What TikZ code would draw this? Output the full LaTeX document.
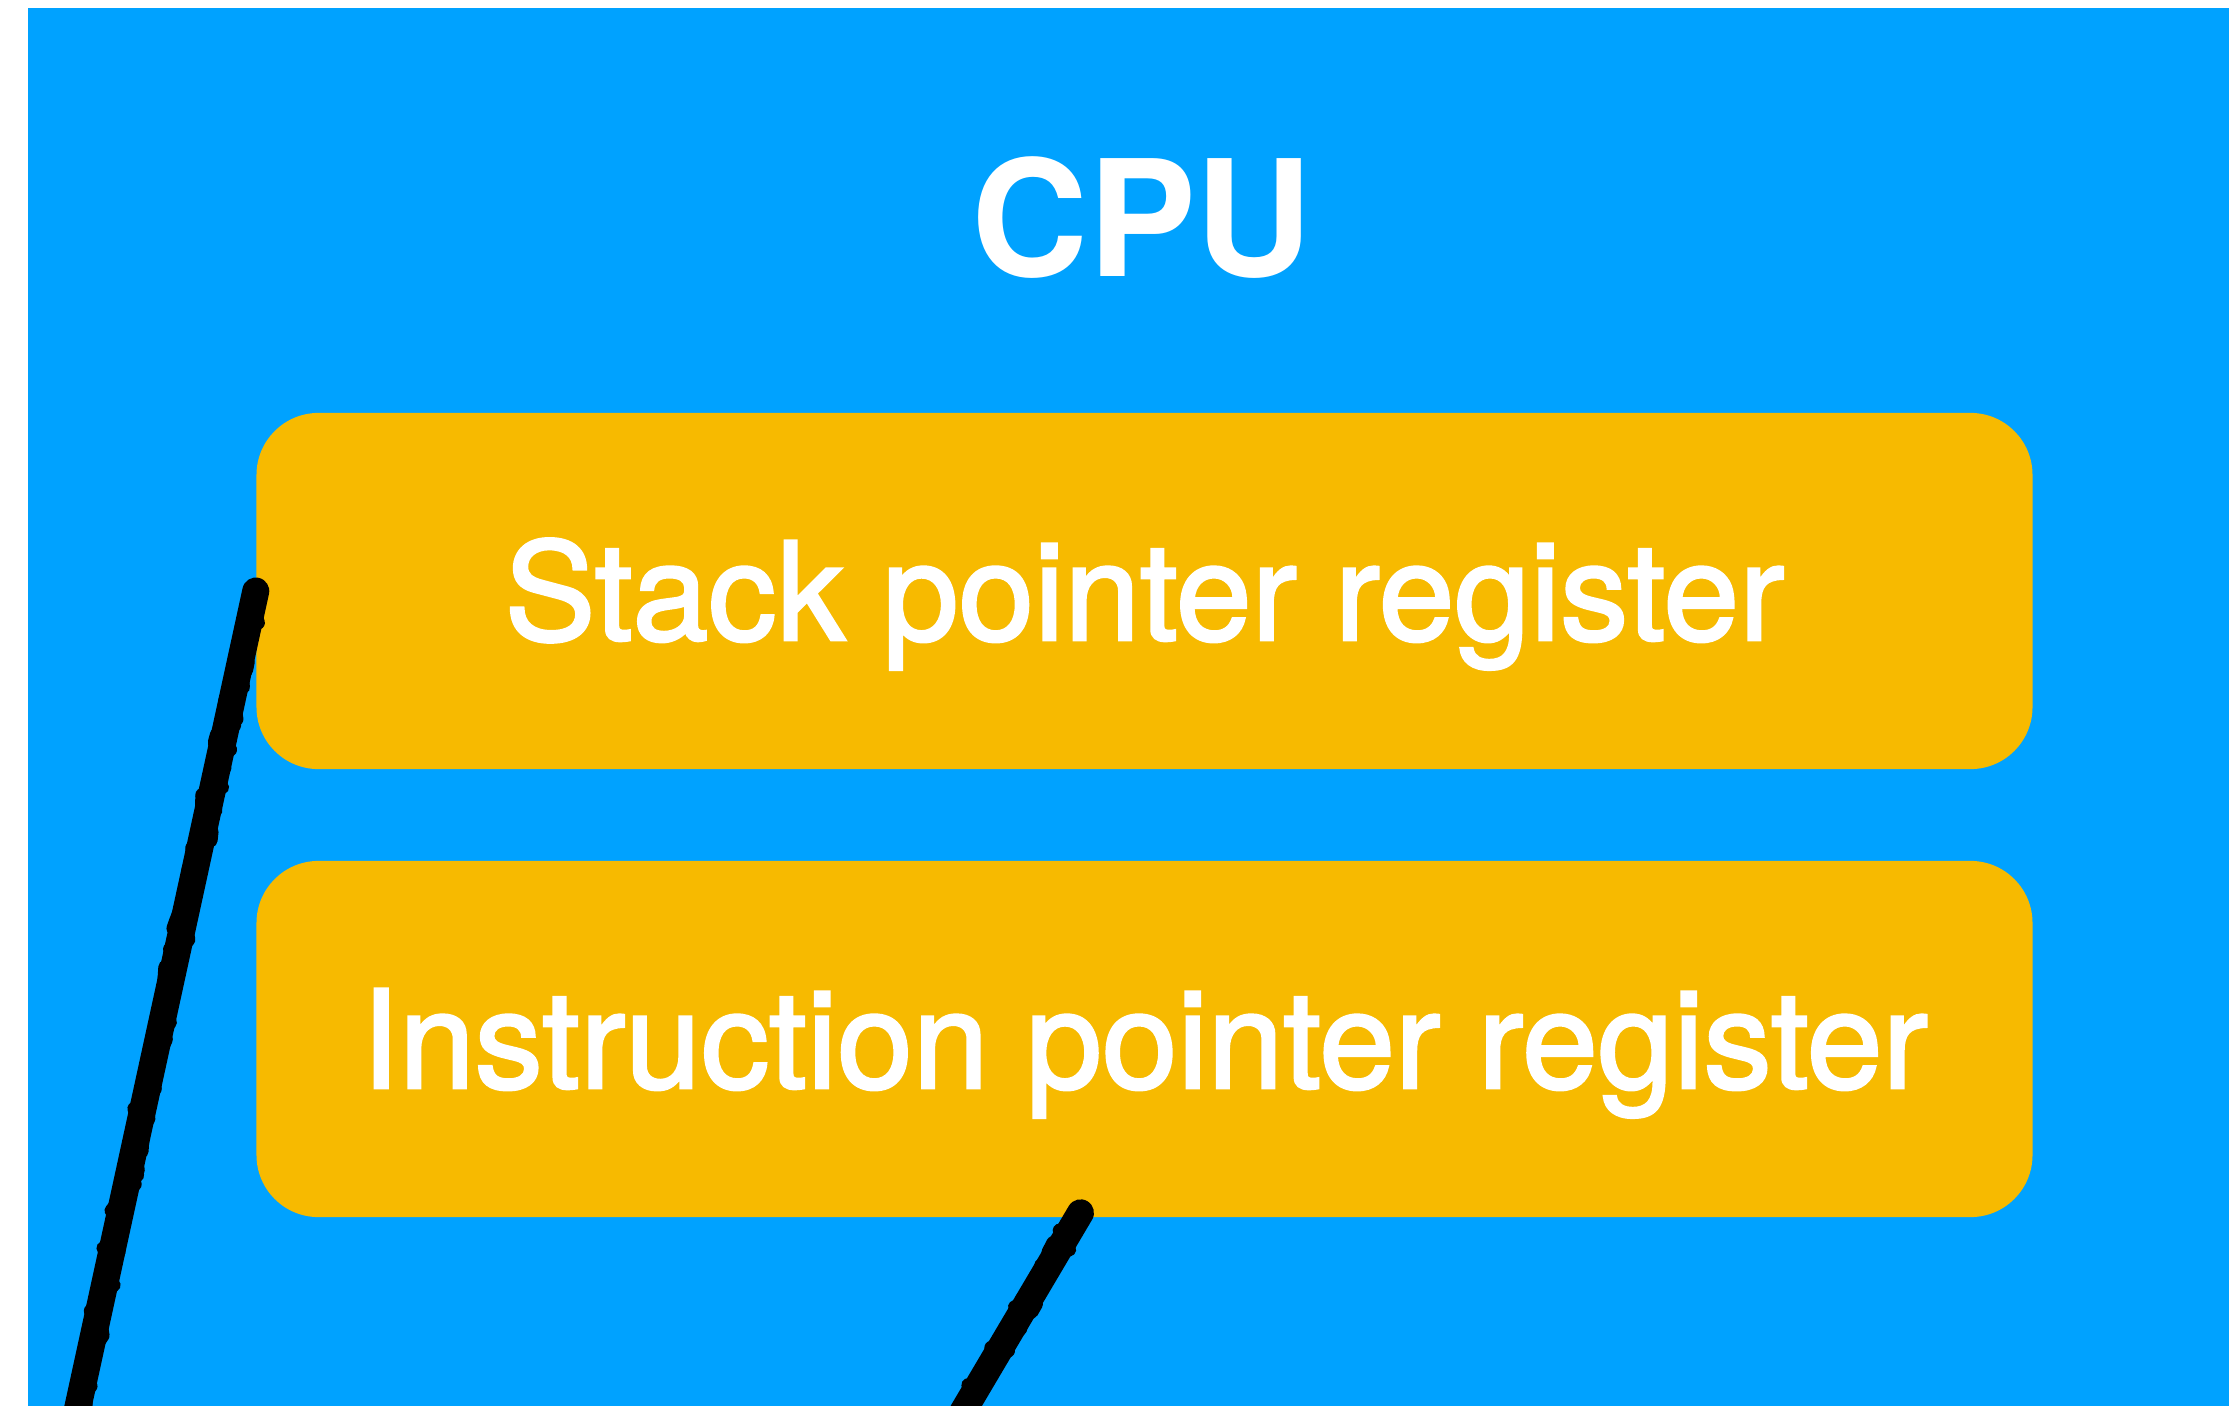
\documentclass[tikz,border=0pt]{standalone}
\usepackage{fontspec}
\setmainfont{TeX Gyre Heros}
\newfontfamily\medfont[FakeBold=2]{TeX Gyre Heros}
\usetikzlibrary{decorations.pathmorphing}
\definecolor{cpublue}{HTML}{00A2FF}
\definecolor{regorange}{HTML}{F7BA00}
\tikzset{
  regbox/.style={fill=regorange, draw=none, rounded corners=0.62cm,
    minimum width=17.75cm, minimum height=3.56cm, inner sep=0pt,
    text height=0.98cm, text depth=0pt,
    text=white, font=\medfont\fontsize{38.7}{42}\selectfont},
  title/.style={text=white, font=\bfseries\fontsize{46}{50}\selectfont, inner sep=0pt},
  scribble/.style={draw=black, line width=0.27cm, line cap=round},
  roughedge/.style={draw=black, line width=0.14cm, line cap=round, line join=round,
    decorate, decoration={random steps, segment length=0.06cm, amplitude=0.09cm}}
}
\begin{document}
\begin{tikzpicture}[x=0.01cm, y=-0.01cm]
\pgfmathsetseed{7}
\useasboundingbox (0,0) rectangle (2229,1405);
\clip (0,0) rectangle (2229,1405);
\fill[white] (0,0) rectangle (2229,1405);
\fill[cpublue] (28,8) rectangle (2240,1420);
\node[title] (cpu) at (1142,218) {CPU};
\node[regbox] (sp) at (1144.5,591) {Stack pointer register};
\node[regbox] (ip) at (1144.5,1039) {Instruction pointer register};
\coordinate (e1) at (74,1425);
\coordinate (e2) at (955,1425);
\coordinate (s2) at ([xshift=-0.64cm,yshift=0.05cm]ip.south);
\draw[scribble] (sp.west) -- (e1);
\draw[roughedge] (sp.west) -- (e1);
\draw[scribble] (s2) -- (e2);
\draw[roughedge] (s2) -- (e2);
\end{tikzpicture}
\end{document}
